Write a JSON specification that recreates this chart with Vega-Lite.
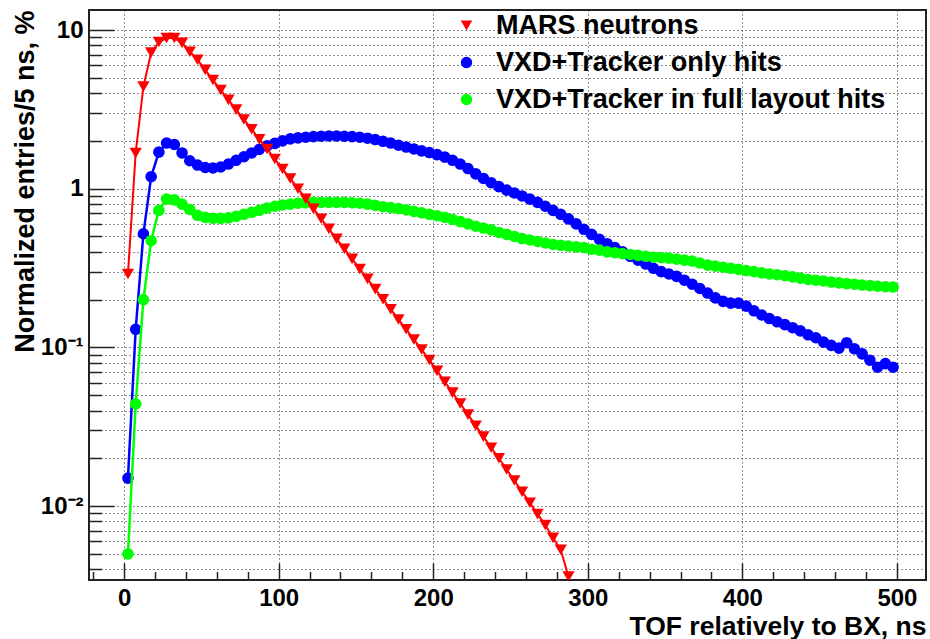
{
  "$schema": "https://vega.github.io/schema/vega-lite/v6.json",
  "width": 837,
  "height": 570,
  "autosize": {"type": "none"},
  "padding": {"left": 89, "top": 10, "right": 4, "bottom": 59},
  "background": "white",
  "data": {"values": [
    {"tof":2.5,"value":0.015,"series":"VXD+Tracker only hits"},
    {"tof":7.5,"value":0.13,"series":"VXD+Tracker only hits"},
    {"tof":12.5,"value":0.52,"series":"VXD+Tracker only hits"},
    {"tof":17.5,"value":1.19,"series":"VXD+Tracker only hits"},
    {"tof":22.5,"value":1.70,"series":"VXD+Tracker only hits"},
    {"tof":27.5,"value":1.94,"series":"VXD+Tracker only hits"},
    {"tof":32.5,"value":1.90,"series":"VXD+Tracker only hits"},
    {"tof":37.5,"value":1.68,"series":"VXD+Tracker only hits"},
    {"tof":42.5,"value":1.50,"series":"VXD+Tracker only hits"},
    {"tof":47.5,"value":1.41,"series":"VXD+Tracker only hits"},
    {"tof":52.5,"value":1.36,"series":"VXD+Tracker only hits"},
    {"tof":57.5,"value":1.35,"series":"VXD+Tracker only hits"},
    {"tof":62.5,"value":1.37,"series":"VXD+Tracker only hits"},
    {"tof":67.5,"value":1.43,"series":"VXD+Tracker only hits"},
    {"tof":72.5,"value":1.51,"series":"VXD+Tracker only hits"},
    {"tof":77.5,"value":1.59,"series":"VXD+Tracker only hits"},
    {"tof":82.5,"value":1.68,"series":"VXD+Tracker only hits"},
    {"tof":87.5,"value":1.77,"series":"VXD+Tracker only hits"},
    {"tof":92.5,"value":1.86,"series":"VXD+Tracker only hits"},
    {"tof":97.5,"value":1.93,"series":"VXD+Tracker only hits"},
    {"tof":102.5,"value":2.00,"series":"VXD+Tracker only hits"},
    {"tof":107.5,"value":2.06,"series":"VXD+Tracker only hits"},
    {"tof":112.5,"value":2.09,"series":"VXD+Tracker only hits"},
    {"tof":117.5,"value":2.11,"series":"VXD+Tracker only hits"},
    {"tof":122.5,"value":2.13,"series":"VXD+Tracker only hits"},
    {"tof":127.5,"value":2.14,"series":"VXD+Tracker only hits"},
    {"tof":132.5,"value":2.15,"series":"VXD+Tracker only hits"},
    {"tof":137.5,"value":2.15,"series":"VXD+Tracker only hits"},
    {"tof":142.5,"value":2.14,"series":"VXD+Tracker only hits"},
    {"tof":147.5,"value":2.13,"series":"VXD+Tracker only hits"},
    {"tof":152.5,"value":2.11,"series":"VXD+Tracker only hits"},
    {"tof":157.5,"value":2.08,"series":"VXD+Tracker only hits"},
    {"tof":162.5,"value":2.04,"series":"VXD+Tracker only hits"},
    {"tof":167.5,"value":1.99,"series":"VXD+Tracker only hits"},
    {"tof":172.5,"value":1.94,"series":"VXD+Tracker only hits"},
    {"tof":177.5,"value":1.88,"series":"VXD+Tracker only hits"},
    {"tof":182.5,"value":1.83,"series":"VXD+Tracker only hits"},
    {"tof":187.5,"value":1.78,"series":"VXD+Tracker only hits"},
    {"tof":192.5,"value":1.73,"series":"VXD+Tracker only hits"},
    {"tof":197.5,"value":1.69,"series":"VXD+Tracker only hits"},
    {"tof":202.5,"value":1.64,"series":"VXD+Tracker only hits"},
    {"tof":207.5,"value":1.58,"series":"VXD+Tracker only hits"},
    {"tof":212.5,"value":1.51,"series":"VXD+Tracker only hits"},
    {"tof":217.5,"value":1.43,"series":"VXD+Tracker only hits"},
    {"tof":222.5,"value":1.34,"series":"VXD+Tracker only hits"},
    {"tof":227.5,"value":1.24,"series":"VXD+Tracker only hits"},
    {"tof":232.5,"value":1.16,"series":"VXD+Tracker only hits"},
    {"tof":237.5,"value":1.09,"series":"VXD+Tracker only hits"},
    {"tof":242.5,"value":1.03,"series":"VXD+Tracker only hits"},
    {"tof":247.5,"value":0.98,"series":"VXD+Tracker only hits"},
    {"tof":252.5,"value":0.94,"series":"VXD+Tracker only hits"},
    {"tof":257.5,"value":0.90,"series":"VXD+Tracker only hits"},
    {"tof":262.5,"value":0.86,"series":"VXD+Tracker only hits"},
    {"tof":267.5,"value":0.82,"series":"VXD+Tracker only hits"},
    {"tof":272.5,"value":0.775,"series":"VXD+Tracker only hits"},
    {"tof":277.5,"value":0.73,"series":"VXD+Tracker only hits"},
    {"tof":282.5,"value":0.69,"series":"VXD+Tracker only hits"},
    {"tof":287.5,"value":0.645,"series":"VXD+Tracker only hits"},
    {"tof":292.5,"value":0.60,"series":"VXD+Tracker only hits"},
    {"tof":297.5,"value":0.555,"series":"VXD+Tracker only hits"},
    {"tof":302.5,"value":0.515,"series":"VXD+Tracker only hits"},
    {"tof":307.5,"value":0.48,"series":"VXD+Tracker only hits"},
    {"tof":312.5,"value":0.45,"series":"VXD+Tracker only hits"},
    {"tof":317.5,"value":0.425,"series":"VXD+Tracker only hits"},
    {"tof":322.5,"value":0.40,"series":"VXD+Tracker only hits"},
    {"tof":327.5,"value":0.375,"series":"VXD+Tracker only hits"},
    {"tof":332.5,"value":0.355,"series":"VXD+Tracker only hits"},
    {"tof":337.5,"value":0.335,"series":"VXD+Tracker only hits"},
    {"tof":342.5,"value":0.315,"series":"VXD+Tracker only hits"},
    {"tof":347.5,"value":0.30,"series":"VXD+Tracker only hits"},
    {"tof":352.5,"value":0.29,"series":"VXD+Tracker only hits"},
    {"tof":357.5,"value":0.28,"series":"VXD+Tracker only hits"},
    {"tof":362.5,"value":0.265,"series":"VXD+Tracker only hits"},
    {"tof":367.5,"value":0.25,"series":"VXD+Tracker only hits"},
    {"tof":372.5,"value":0.235,"series":"VXD+Tracker only hits"},
    {"tof":377.5,"value":0.22,"series":"VXD+Tracker only hits"},
    {"tof":382.5,"value":0.205,"series":"VXD+Tracker only hits"},
    {"tof":387.5,"value":0.195,"series":"VXD+Tracker only hits"},
    {"tof":392.5,"value":0.19,"series":"VXD+Tracker only hits"},
    {"tof":397.5,"value":0.19,"series":"VXD+Tracker only hits"},
    {"tof":402.5,"value":0.182,"series":"VXD+Tracker only hits"},
    {"tof":407.5,"value":0.17,"series":"VXD+Tracker only hits"},
    {"tof":412.5,"value":0.16,"series":"VXD+Tracker only hits"},
    {"tof":417.5,"value":0.152,"series":"VXD+Tracker only hits"},
    {"tof":422.5,"value":0.145,"series":"VXD+Tracker only hits"},
    {"tof":427.5,"value":0.139,"series":"VXD+Tracker only hits"},
    {"tof":432.5,"value":0.133,"series":"VXD+Tracker only hits"},
    {"tof":437.5,"value":0.127,"series":"VXD+Tracker only hits"},
    {"tof":442.5,"value":0.12,"series":"VXD+Tracker only hits"},
    {"tof":447.5,"value":0.115,"series":"VXD+Tracker only hits"},
    {"tof":452.5,"value":0.108,"series":"VXD+Tracker only hits"},
    {"tof":457.5,"value":0.103,"series":"VXD+Tracker only hits"},
    {"tof":462.5,"value":0.099,"series":"VXD+Tracker only hits"},
    {"tof":467.5,"value":0.107,"series":"VXD+Tracker only hits"},
    {"tof":472.5,"value":0.098,"series":"VXD+Tracker only hits"},
    {"tof":477.5,"value":0.091,"series":"VXD+Tracker only hits"},
    {"tof":482.5,"value":0.083,"series":"VXD+Tracker only hits"},
    {"tof":487.5,"value":0.075,"series":"VXD+Tracker only hits"},
    {"tof":492.5,"value":0.079,"series":"VXD+Tracker only hits"},
    {"tof":497.5,"value":0.075,"series":"VXD+Tracker only hits"},

    {"tof":2.5,"value":0.005,"series":"VXD+Tracker in full layout hits"},
    {"tof":7.5,"value":0.044,"series":"VXD+Tracker in full layout hits"},
    {"tof":12.5,"value":0.20,"series":"VXD+Tracker in full layout hits"},
    {"tof":17.5,"value":0.47,"series":"VXD+Tracker in full layout hits"},
    {"tof":22.5,"value":0.73,"series":"VXD+Tracker in full layout hits"},
    {"tof":27.5,"value":0.86,"series":"VXD+Tracker in full layout hits"},
    {"tof":32.5,"value":0.85,"series":"VXD+Tracker in full layout hits"},
    {"tof":37.5,"value":0.80,"series":"VXD+Tracker in full layout hits"},
    {"tof":42.5,"value":0.74,"series":"VXD+Tracker in full layout hits"},
    {"tof":47.5,"value":0.68,"series":"VXD+Tracker in full layout hits"},
    {"tof":52.5,"value":0.66,"series":"VXD+Tracker in full layout hits"},
    {"tof":57.5,"value":0.65,"series":"VXD+Tracker in full layout hits"},
    {"tof":62.5,"value":0.65,"series":"VXD+Tracker in full layout hits"},
    {"tof":67.5,"value":0.655,"series":"VXD+Tracker in full layout hits"},
    {"tof":72.5,"value":0.67,"series":"VXD+Tracker in full layout hits"},
    {"tof":77.5,"value":0.69,"series":"VXD+Tracker in full layout hits"},
    {"tof":82.5,"value":0.71,"series":"VXD+Tracker in full layout hits"},
    {"tof":87.5,"value":0.73,"series":"VXD+Tracker in full layout hits"},
    {"tof":92.5,"value":0.755,"series":"VXD+Tracker in full layout hits"},
    {"tof":97.5,"value":0.775,"series":"VXD+Tracker in full layout hits"},
    {"tof":102.5,"value":0.79,"series":"VXD+Tracker in full layout hits"},
    {"tof":107.5,"value":0.80,"series":"VXD+Tracker in full layout hits"},
    {"tof":112.5,"value":0.81,"series":"VXD+Tracker in full layout hits"},
    {"tof":117.5,"value":0.815,"series":"VXD+Tracker in full layout hits"},
    {"tof":122.5,"value":0.82,"series":"VXD+Tracker in full layout hits"},
    {"tof":127.5,"value":0.82,"series":"VXD+Tracker in full layout hits"},
    {"tof":132.5,"value":0.82,"series":"VXD+Tracker in full layout hits"},
    {"tof":137.5,"value":0.82,"series":"VXD+Tracker in full layout hits"},
    {"tof":142.5,"value":0.82,"series":"VXD+Tracker in full layout hits"},
    {"tof":147.5,"value":0.815,"series":"VXD+Tracker in full layout hits"},
    {"tof":152.5,"value":0.81,"series":"VXD+Tracker in full layout hits"},
    {"tof":157.5,"value":0.80,"series":"VXD+Tracker in full layout hits"},
    {"tof":162.5,"value":0.785,"series":"VXD+Tracker in full layout hits"},
    {"tof":167.5,"value":0.77,"series":"VXD+Tracker in full layout hits"},
    {"tof":172.5,"value":0.76,"series":"VXD+Tracker in full layout hits"},
    {"tof":177.5,"value":0.75,"series":"VXD+Tracker in full layout hits"},
    {"tof":182.5,"value":0.735,"series":"VXD+Tracker in full layout hits"},
    {"tof":187.5,"value":0.72,"series":"VXD+Tracker in full layout hits"},
    {"tof":192.5,"value":0.705,"series":"VXD+Tracker in full layout hits"},
    {"tof":197.5,"value":0.69,"series":"VXD+Tracker in full layout hits"},
    {"tof":202.5,"value":0.675,"series":"VXD+Tracker in full layout hits"},
    {"tof":207.5,"value":0.66,"series":"VXD+Tracker in full layout hits"},
    {"tof":212.5,"value":0.64,"series":"VXD+Tracker in full layout hits"},
    {"tof":217.5,"value":0.62,"series":"VXD+Tracker in full layout hits"},
    {"tof":222.5,"value":0.60,"series":"VXD+Tracker in full layout hits"},
    {"tof":227.5,"value":0.58,"series":"VXD+Tracker in full layout hits"},
    {"tof":232.5,"value":0.565,"series":"VXD+Tracker in full layout hits"},
    {"tof":237.5,"value":0.55,"series":"VXD+Tracker in full layout hits"},
    {"tof":242.5,"value":0.53,"series":"VXD+Tracker in full layout hits"},
    {"tof":247.5,"value":0.515,"series":"VXD+Tracker in full layout hits"},
    {"tof":252.5,"value":0.50,"series":"VXD+Tracker in full layout hits"},
    {"tof":257.5,"value":0.485,"series":"VXD+Tracker in full layout hits"},
    {"tof":262.5,"value":0.475,"series":"VXD+Tracker in full layout hits"},
    {"tof":267.5,"value":0.465,"series":"VXD+Tracker in full layout hits"},
    {"tof":272.5,"value":0.455,"series":"VXD+Tracker in full layout hits"},
    {"tof":277.5,"value":0.445,"series":"VXD+Tracker in full layout hits"},
    {"tof":282.5,"value":0.44,"series":"VXD+Tracker in full layout hits"},
    {"tof":287.5,"value":0.435,"series":"VXD+Tracker in full layout hits"},
    {"tof":292.5,"value":0.43,"series":"VXD+Tracker in full layout hits"},
    {"tof":297.5,"value":0.425,"series":"VXD+Tracker in full layout hits"},
    {"tof":302.5,"value":0.415,"series":"VXD+Tracker in full layout hits"},
    {"tof":307.5,"value":0.41,"series":"VXD+Tracker in full layout hits"},
    {"tof":312.5,"value":0.40,"series":"VXD+Tracker in full layout hits"},
    {"tof":317.5,"value":0.395,"series":"VXD+Tracker in full layout hits"},
    {"tof":322.5,"value":0.39,"series":"VXD+Tracker in full layout hits"},
    {"tof":327.5,"value":0.385,"series":"VXD+Tracker in full layout hits"},
    {"tof":332.5,"value":0.38,"series":"VXD+Tracker in full layout hits"},
    {"tof":337.5,"value":0.375,"series":"VXD+Tracker in full layout hits"},
    {"tof":342.5,"value":0.37,"series":"VXD+Tracker in full layout hits"},
    {"tof":347.5,"value":0.368,"series":"VXD+Tracker in full layout hits"},
    {"tof":352.5,"value":0.365,"series":"VXD+Tracker in full layout hits"},
    {"tof":357.5,"value":0.36,"series":"VXD+Tracker in full layout hits"},
    {"tof":362.5,"value":0.355,"series":"VXD+Tracker in full layout hits"},
    {"tof":367.5,"value":0.35,"series":"VXD+Tracker in full layout hits"},
    {"tof":372.5,"value":0.34,"series":"VXD+Tracker in full layout hits"},
    {"tof":377.5,"value":0.33,"series":"VXD+Tracker in full layout hits"},
    {"tof":382.5,"value":0.325,"series":"VXD+Tracker in full layout hits"},
    {"tof":387.5,"value":0.32,"series":"VXD+Tracker in full layout hits"},
    {"tof":392.5,"value":0.315,"series":"VXD+Tracker in full layout hits"},
    {"tof":397.5,"value":0.31,"series":"VXD+Tracker in full layout hits"},
    {"tof":402.5,"value":0.305,"series":"VXD+Tracker in full layout hits"},
    {"tof":407.5,"value":0.30,"series":"VXD+Tracker in full layout hits"},
    {"tof":412.5,"value":0.295,"series":"VXD+Tracker in full layout hits"},
    {"tof":417.5,"value":0.29,"series":"VXD+Tracker in full layout hits"},
    {"tof":422.5,"value":0.287,"series":"VXD+Tracker in full layout hits"},
    {"tof":427.5,"value":0.283,"series":"VXD+Tracker in full layout hits"},
    {"tof":432.5,"value":0.278,"series":"VXD+Tracker in full layout hits"},
    {"tof":437.5,"value":0.273,"series":"VXD+Tracker in full layout hits"},
    {"tof":442.5,"value":0.268,"series":"VXD+Tracker in full layout hits"},
    {"tof":447.5,"value":0.265,"series":"VXD+Tracker in full layout hits"},
    {"tof":452.5,"value":0.262,"series":"VXD+Tracker in full layout hits"},
    {"tof":457.5,"value":0.258,"series":"VXD+Tracker in full layout hits"},
    {"tof":462.5,"value":0.255,"series":"VXD+Tracker in full layout hits"},
    {"tof":467.5,"value":0.252,"series":"VXD+Tracker in full layout hits"},
    {"tof":472.5,"value":0.25,"series":"VXD+Tracker in full layout hits"},
    {"tof":477.5,"value":0.247,"series":"VXD+Tracker in full layout hits"},
    {"tof":482.5,"value":0.245,"series":"VXD+Tracker in full layout hits"},
    {"tof":487.5,"value":0.243,"series":"VXD+Tracker in full layout hits"},
    {"tof":492.5,"value":0.241,"series":"VXD+Tracker in full layout hits"},
    {"tof":497.5,"value":0.24,"series":"VXD+Tracker in full layout hits"},

    {"tof":2.5,"value":0.29,"series":"MARS neutrons"},
    {"tof":7.5,"value":1.68,"series":"MARS neutrons"},
    {"tof":12.5,"value":4.4,"series":"MARS neutrons"},
    {"tof":17.5,"value":7.2,"series":"MARS neutrons"},
    {"tof":22.5,"value":8.4,"series":"MARS neutrons"},
    {"tof":27.5,"value":8.9,"series":"MARS neutrons"},
    {"tof":32.5,"value":8.9,"series":"MARS neutrons"},
    {"tof":37.5,"value":8.3,"series":"MARS neutrons"},
    {"tof":42.5,"value":7.3,"series":"MARS neutrons"},
    {"tof":47.5,"value":6.5,"series":"MARS neutrons"},
    {"tof":52.5,"value":5.61,"series":"MARS neutrons"},
    {"tof":57.5,"value":4.84,"series":"MARS neutrons"},
    {"tof":62.5,"value":4.19,"series":"MARS neutrons"},
    {"tof":67.5,"value":3.63,"series":"MARS neutrons"},
    {"tof":72.5,"value":3.15,"series":"MARS neutrons"},
    {"tof":77.5,"value":2.73,"series":"MARS neutrons"},
    {"tof":82.5,"value":2.37,"series":"MARS neutrons"},
    {"tof":87.5,"value":2.05,"series":"MARS neutrons"},
    {"tof":92.5,"value":1.78,"series":"MARS neutrons"},
    {"tof":97.5,"value":1.54,"series":"MARS neutrons"},
    {"tof":102.5,"value":1.33,"series":"MARS neutrons"},
    {"tof":107.5,"value":1.16,"series":"MARS neutrons"},
    {"tof":112.5,"value":1.0,"series":"MARS neutrons"},
    {"tof":117.5,"value":0.865,"series":"MARS neutrons"},
    {"tof":122.5,"value":0.748,"series":"MARS neutrons"},
    {"tof":127.5,"value":0.646,"series":"MARS neutrons"},
    {"tof":132.5,"value":0.558,"series":"MARS neutrons"},
    {"tof":137.5,"value":0.483,"series":"MARS neutrons"},
    {"tof":142.5,"value":0.418,"series":"MARS neutrons"},
    {"tof":147.5,"value":0.361,"series":"MARS neutrons"},
    {"tof":152.5,"value":0.312,"series":"MARS neutrons"},
    {"tof":157.5,"value":0.27,"series":"MARS neutrons"},
    {"tof":162.5,"value":0.233,"series":"MARS neutrons"},
    {"tof":167.5,"value":0.201,"series":"MARS neutrons"},
    {"tof":172.5,"value":0.174,"series":"MARS neutrons"},
    {"tof":177.5,"value":0.15,"series":"MARS neutrons"},
    {"tof":182.5,"value":0.13,"series":"MARS neutrons"},
    {"tof":187.5,"value":0.112,"series":"MARS neutrons"},
    {"tof":192.5,"value":0.097,"series":"MARS neutrons"},
    {"tof":197.5,"value":0.0832,"series":"MARS neutrons"},
    {"tof":202.5,"value":0.0711,"series":"MARS neutrons"},
    {"tof":207.5,"value":0.0607,"series":"MARS neutrons"},
    {"tof":212.5,"value":0.0519,"series":"MARS neutrons"},
    {"tof":217.5,"value":0.0443,"series":"MARS neutrons"},
    {"tof":222.5,"value":0.0377,"series":"MARS neutrons"},
    {"tof":227.5,"value":0.0321,"series":"MARS neutrons"},
    {"tof":232.5,"value":0.0274,"series":"MARS neutrons"},
    {"tof":237.5,"value":0.0233,"series":"MARS neutrons"},
    {"tof":242.5,"value":0.02,"series":"MARS neutrons"},
    {"tof":247.5,"value":0.017,"series":"MARS neutrons"},
    {"tof":252.5,"value":0.0145,"series":"MARS neutrons"},
    {"tof":257.5,"value":0.0123,"series":"MARS neutrons"},
    {"tof":262.5,"value":0.0105,"series":"MARS neutrons"},
    {"tof":267.5,"value":0.0089,"series":"MARS neutrons"},
    {"tof":272.5,"value":0.0076,"series":"MARS neutrons"},
    {"tof":277.5,"value":0.0063,"series":"MARS neutrons"},
    {"tof":282.5,"value":0.0053,"series":"MARS neutrons"},
    {"tof":287.5,"value":0.0036,"series":"MARS neutrons"}
  ]},
  "encoding": {
    "x": {"field": "tof", "type": "quantitative", "scale": {"domain": [-22.7, 518.8], "nice": false, "zero": false}, "axis": null},
    "y": {"field": "value", "type": "quantitative", "scale": {"type": "log", "domain": [0.00342, 13.37], "nice": false}, "axis": null}
  },
  "layer": [
    {
      "transform": [{"filter": "datum.series === 'VXD+Tracker only hits'"}],
      "mark": {"type": "line", "color": "#0000ff", "strokeWidth": 2.5, "clip": true},
      "encoding": {
        "x": {"field": "tof", "type": "quantitative", "scale": {"domain": [-22.7, 518.8], "nice": false, "zero": false},
          "axis": {"orient": "bottom", "values": [0, 100, 200, 300, 400, 500], "tickSize": -17, "grid": true, "labelPadding": 42.5, "labelBaseline": "alphabetic", "labelFlush": false, "labelOverlap": false, "format": "d",
            "title": "TOF relatively to BX, ns", "titleFontSize": 26.5, "titleAlign": "right", "titleBaseline": "alphabetic", "titleX": 837, "titleY": 54}},
        "y": {"field": "value", "type": "quantitative", "scale": {"type": "log", "domain": [0.00342, 13.37], "nice": false},
          "axis": {"orient": "left", "values": [0.01, 0.1, 1, 10], "tickSize": -25, "grid": true, "labelPadding": 31, "labelFlush": false, "labelOverlap": false,
            "labelExpr": "datum.value >= 5 ? '10' : datum.value >= 0.5 ? '1' : datum.value >= 0.05 ? '10⁻¹' : '10⁻²'",
            "title": "Normalized entries/5 ns, %", "titleFontSize": 27, "titleAngle": 270, "titleAlign": "right", "titleBaseline": "alphabetic", "titleX": -56, "titleY": 0}}
      }
    },
    {
      "transform": [{"filter": "datum.series === 'VXD+Tracker only hits'"}],
      "mark": {"type": "point", "filled": true, "opacity": 1, "size": 135, "clip": true},
      "encoding": {
        "x": {"field": "tof", "type": "quantitative", "scale": {"domain": [-22.7, 518.8], "nice": false, "zero": false},
          "axis": {"orient": "bottom", "values": [-20, 20, 40, 60, 80, 120, 140, 160, 180, 220, 240, 260, 280, 320, 340, 360, 380, 420, 440, 460, 480], "tickSize": -8.5, "grid": false, "labels": false, "title": null}},
        "y": {"field": "value", "type": "quantitative", "scale": {"type": "log", "domain": [0.00342, 13.37], "nice": false},
          "axis": {"orient": "left", "values": [0.004, 0.005, 0.006, 0.007, 0.008, 0.009, 0.02, 0.03, 0.04, 0.05, 0.06, 0.07, 0.08, 0.09, 0.2, 0.3, 0.4, 0.5, 0.6, 0.7, 0.8, 0.9, 2, 3, 4, 5, 6, 7, 8, 9], "tickSize": -12.5, "grid": true, "labels": false, "title": null}},
        "color": {"field": "series", "type": "nominal", "scale": {"domain": ["MARS neutrons", "VXD+Tracker only hits", "VXD+Tracker in full layout hits"], "range": ["#ff0000", "#0000ff", "#00ff00"]},
          "legend": {"orient": "none", "legendX": 364, "legendY": 2, "title": null}},
        "shape": {"field": "series", "type": "nominal", "scale": {"domain": ["MARS neutrons", "VXD+Tracker only hits", "VXD+Tracker in full layout hits"], "range": ["triangle-down", "circle", "circle"]},
          "legend": {"orient": "none", "legendX": 364, "legendY": 2, "title": null}}
      }
    },
    {
      "transform": [{"filter": "datum.series === 'VXD+Tracker in full layout hits'"}],
      "mark": {"type": "line", "color": "#00ff00", "strokeWidth": 2.5, "clip": true},
      "encoding": {}
    },
    {
      "transform": [{"filter": "datum.series === 'VXD+Tracker in full layout hits'"}],
      "mark": {"type": "point", "filled": true, "opacity": 1, "size": 135, "clip": true},
      "encoding": {
        "color": {"field": "series", "type": "nominal", "scale": {"domain": ["MARS neutrons", "VXD+Tracker only hits", "VXD+Tracker in full layout hits"], "range": ["#ff0000", "#0000ff", "#00ff00"]},
          "legend": {"orient": "none", "legendX": 364, "legendY": 2, "title": null}},
        "shape": {"field": "series", "type": "nominal", "scale": {"domain": ["MARS neutrons", "VXD+Tracker only hits", "VXD+Tracker in full layout hits"], "range": ["triangle-down", "circle", "circle"]},
          "legend": {"orient": "none", "legendX": 364, "legendY": 2, "title": null}}
      }
    },
    {
      "transform": [{"filter": "datum.series === 'MARS neutrons'"}],
      "mark": {"type": "line", "color": "#ff0000", "strokeWidth": 2, "clip": true},
      "encoding": {}
    },
    {
      "transform": [{"filter": "datum.series === 'MARS neutrons'"}],
      "mark": {"type": "point", "filled": true, "opacity": 1, "size": 150, "clip": true},
      "encoding": {
        "color": {"field": "series", "type": "nominal", "scale": {"domain": ["MARS neutrons", "VXD+Tracker only hits", "VXD+Tracker in full layout hits"], "range": ["#ff0000", "#0000ff", "#00ff00"]},
          "legend": {"orient": "none", "legendX": 364, "legendY": 2, "title": null}},
        "shape": {"field": "series", "type": "nominal", "scale": {"domain": ["MARS neutrons", "VXD+Tracker only hits", "VXD+Tracker in full layout hits"], "range": ["triangle-down", "circle", "circle"]},
          "legend": {"orient": "none", "legendX": 364, "legendY": 2, "title": null}}
      }
    }
  ],
  "resolve": {"axis": {"x": "independent", "y": "independent"}},
  "config": {
    "font": "Liberation Sans",
    "view": {"stroke": "#222222", "strokeWidth": 2},
    "axis": {
      "domain": false,
      "labelFont": "Liberation Sans", "labelFontWeight": "bold", "labelFontSize": 24, "labelColor": "#000000",
      "titleFont": "Liberation Sans", "titleFontWeight": "bold", "titleColor": "#000000",
      "tickColor": "#222222", "tickWidth": 1.5,
      "gridColor": "#222222", "gridDash": [1, 3], "gridWidth": 1, "gridOpacity": 1
    },
    "legend": {
      "labelFont": "Liberation Sans", "labelFontWeight": "bold", "labelFontSize": 27, "labelColor": "#000000",
      "symbolSize": 130, "rowPadding": 9, "labelOffset": 16, "padding": 0, "symbolStrokeWidth": 0, "labelLimit": 600
    }
  }
}
